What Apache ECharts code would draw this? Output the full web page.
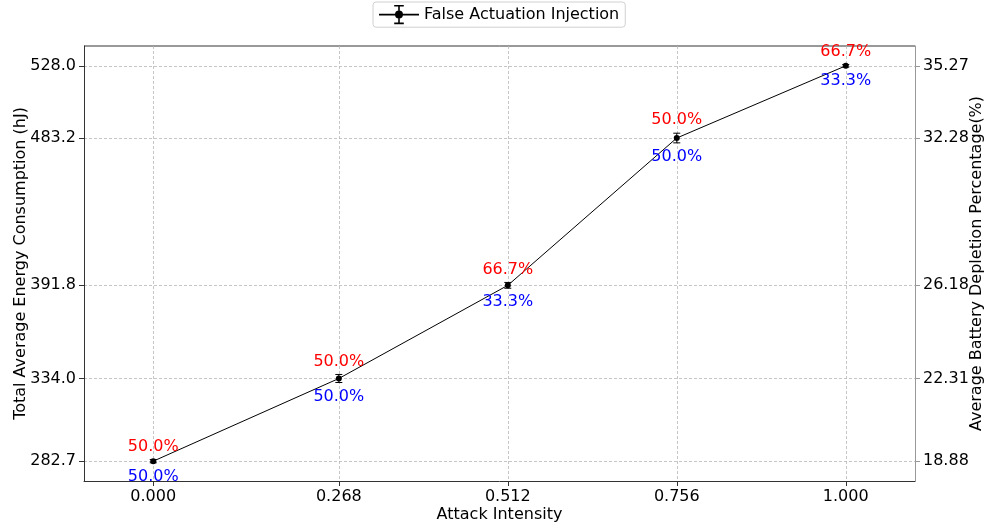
<!DOCTYPE html>
<html>
<head>
<meta charset="utf-8">
<script src="https://cdn.jsdelivr.net/npm/echarts@6/dist/echarts.min.js"></script>
<style>
  html, body { margin: 0; padding: 0; background: #fff; }
  #chart { width: 987px; height: 526px; }
</style>
</head>
<body>
<div id="chart"></div>
<script>
// Attack intensities and measured energy
const intensity = [0.000, 0.268, 0.512, 0.756, 1.000];
const energy = [282.7, 334.0, 391.8, 483.2, 528.0];
const energyErr = [1.0, 2.5, 1.8, 3.0, 0.8];
// Share of runs above / below (percent)
const upperShare = [50.0, 50.0, 66.7, 50.0, 66.7];
const lowerShare = [50.0, 50.0, 33.3, 50.0, 33.3];
// Right-axis tick labels (battery depletion %)
const depletionTicks = [18.88, 22.31, 26.18, 32.28, 35.27];
const depletionPerEnergy = 0.0668;

const seriesName = 'False Actuation Injection';
const font = 'DejaVu Sans';

const yMin = 270.4, yMax = 540.3;

const chart = echarts.init(document.getElementById('chart'), null, { renderer: 'canvas' });

const gridLine = { show: true, lineStyle: { color: '#b8b8b8', width: 0.8, type: [3, 2] } };

const legendIcon = 'path://M0,14H50V16H0Z M24,3H26V27H24Z M19,3H31V5H19Z M19,25H31V27H19Z M25,10A5,5 0 1 1 24.99,10Z';

chart.setOption({
  animation: false,
  textStyle: { fontFamily: font },
  legend: {
    top: 2,
    left: 373,
    data: [{ name: seriesName, icon: legendIcon }],
    itemWidth: 40,
    itemHeight: 22,
    itemGap: 10,
    padding: [3, 6, 3, 6],
    borderColor: '#d0d0d0',
    borderWidth: 1,
    borderRadius: 3,
    textStyle: { fontSize: 16, color: '#000', fontFamily: font },
    itemStyle: { color: '#000' }
  },
  grid: { left: 84, right: 72, top: 46, bottom: 45, outerBoundsMode: 'none', containLabel: false },
  xAxis: {
    type: 'value',
    min: -0.1,
    max: 1.1,
    name: 'Attack Intensity',
    nameLocation: 'middle',
    nameGap: 26,
    nameMoveOverlap: false,
    nameTextStyle: { fontSize: 16, color: '#000', fontFamily: font },
    axisLine: { onZero: false, lineStyle: { color: '#333', width: 1 } },
    axisTick: { show: true, customValues: intensity, length: 5, lineStyle: { color: '#333' } },
    axisLabel: { customValues: intensity, fontSize: 16, color: '#000', margin: 8, formatter: v => v.toFixed(3) },
    splitLine: gridLine
  },
  yAxis: [
    {
      type: 'value',
      min: yMin,
      max: yMax,
      position: 'left',
      name: 'Total Average Energy Consumption (hJ)',
      nameLocation: 'middle',
      nameGap: 55,
      nameMoveOverlap: false,
      nameTextStyle: { fontSize: 16, color: '#000', fontFamily: font },
      axisLine: { show: true, onZero: false, lineStyle: { color: '#333', width: 1 } },
      axisTick: { show: true, customValues: energy, length: 5, lineStyle: { color: '#333' } },
      axisLabel: { customValues: energy, fontSize: 16, color: '#000', margin: 8, formatter: v => v.toFixed(1) },
      splitLine: gridLine
    },
    {
      type: 'value',
      min: yMin * depletionPerEnergy,
      max: yMax * depletionPerEnergy,
      position: 'right',
      name: 'Average Battery Depletion Percentage(%)',
      nameLocation: 'middle',
      nameGap: 54,
      nameRotate: 90,
      nameMoveOverlap: false,
      nameTextStyle: { fontSize: 16, color: '#000', fontFamily: font },
      axisLine: { show: true, onZero: false, lineStyle: { color: '#999', width: 1 } },
      axisTick: { show: true, customValues: depletionTicks, length: 5, lineStyle: { color: '#999' } },
      axisLabel: { customValues: depletionTicks, fontSize: 16, color: '#000', margin: 8, formatter: v => v.toFixed(2) },
      splitLine: { show: false }
    }
  ],
  graphic: [{
    type: 'line',
    shape: { x1: 84, y1: 46, x2: 915, y2: 46 },
    style: { stroke: '#333', lineWidth: 1 },
    silent: true
  }],
  series: [
    {
      name: seriesName,
      type: 'line',
      data: intensity.map((x, i) => [x, energy[i]]),
      symbol: 'circle',
      symbolSize: 6,
      lineStyle: { color: '#000', width: 1 },
      itemStyle: { color: '#000' },
      z: 3
    },
    {
      name: seriesName,
      type: 'custom',
      data: intensity.map((x, i) => [x, energy[i], energyErr[i], upperShare[i], lowerShare[i]]),
      z: 4,
      renderItem: function (params, api) {
        const x = api.value(0), v = api.value(1), e = api.value(2);
        const top = api.coord([x, v + e]);
        const bot = api.coord([x, v - e]);
        const cap = 3.5;
        return {
          type: 'group',
          children: [
            { type: 'line', shape: { x1: top[0], y1: top[1], x2: bot[0], y2: bot[1] }, style: { stroke: '#000', lineWidth: 1 } },
            { type: 'line', shape: { x1: top[0] - cap, y1: top[1], x2: top[0] + cap, y2: top[1] }, style: { stroke: '#000', lineWidth: 1 } },
            { type: 'line', shape: { x1: bot[0] - cap, y1: bot[1], x2: bot[0] + cap, y2: bot[1] }, style: { stroke: '#000', lineWidth: 1 } },
            { type: 'text', x: top[0], y: top[1] - 13, style: { text: api.value(3).toFixed(1) + '%', fill: '#ff0000', font: '16px "DejaVu Sans"', align: 'center', verticalAlign: 'middle' } },
            { type: 'text', x: bot[0], y: bot[1] + 14, style: { text: api.value(4).toFixed(1) + '%', fill: '#0000ff', font: '16px "DejaVu Sans"', align: 'center', verticalAlign: 'middle' } }
          ]
        };
      }
    }
  ]
});
</script>
</body>
</html>
